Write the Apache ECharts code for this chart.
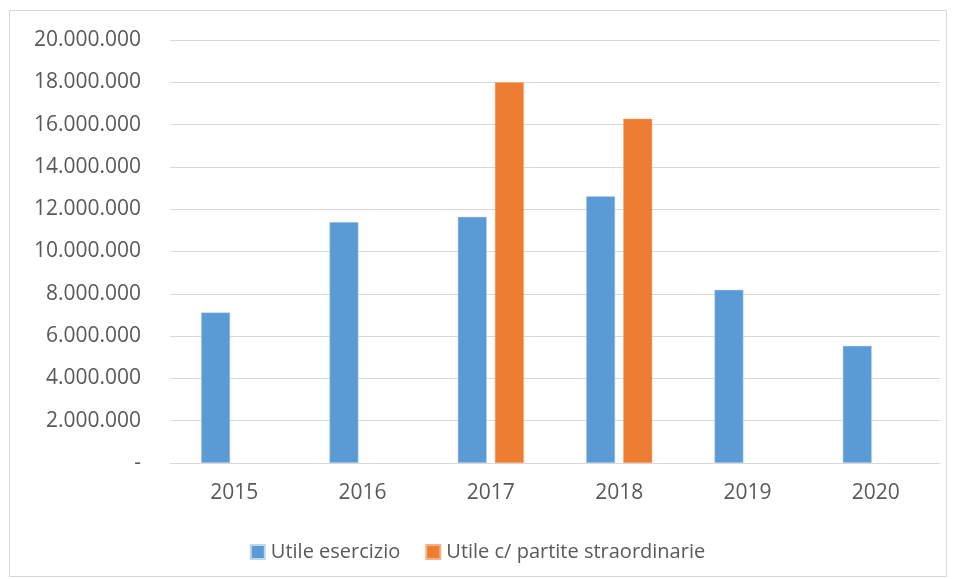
<!DOCTYPE html>
<html>
<head>
<meta charset="utf-8">
<script src="https://cdn.jsdelivr.net/npm/echarts@6/dist/echarts.min.js"></script>
<style>
  html, body { margin: 0; padding: 0; background: #fff; }
  #chart { width: 955px; height: 579px; }
</style>
</head>
<body>
<div id="chart"></div>
<script>
// dati del grafico
var anni = ['2015', '2016', '2017', '2018', '2019', '2020'];
var utileEsercizio = [7120000, 11390000, 11640000, 12610000, 8190000, 5540000];
var utileStraordinarie = [null, null, 18000000, 16280000, null, null];
var nomiSerie = ['Utile esercizio', 'Utile c/ partite straordinarie'];

// formato italiano: 20.000.000, zero mostrato come "-"
function formatta(v) {
    if (v === 0) return '-';
    return String(v).replace(/\B(?=(\d{3})+(?!\d))/g, '.');
}

var myChart = echarts.init(document.getElementById('chart'));

var option = {
    animation: false,
    textStyle: { fontFamily: 'Open Sans, Liberation Sans, sans-serif' },
    graphic: [{
        type: 'rect',
        shape: { x: 9.5, y: 10.5, width: 937, height: 566 },
        style: { fill: 'none', stroke: '#d9d9d9', lineWidth: 1 },
        silent: true
    }],
    grid: { left: 170, right: 15, top: 40, bottom: 116 },
    legend: {
        top: 537,
        left: 'center',
        itemWidth: 14,
        itemHeight: 14,
        itemGap: 25,
        icon: 'rect',
        textStyle: { color: '#595959', fontSize: 20, padding: [0, 0, 0, 1] },
        data: nomiSerie
    },
    xAxis: {
        type: 'category',
        data: anni,
        axisLine: { lineStyle: { color: '#d9d9d9', width: 1 } },
        axisTick: { show: false },
        axisLabel: { color: '#595959', fontSize: 21, margin: 20 }
    },
    yAxis: {
        type: 'value',
        min: 0,
        max: 20000000,
        interval: 2000000,
        axisLine: { show: false },
        axisTick: { show: false },
        splitLine: { lineStyle: { color: '#d9d9d9', width: 1 } },
        axisLabel: { color: '#595959', fontSize: 21, margin: 29, formatter: formatta }
    },
    series: [
        {
            name: nomiSerie[0],
            type: 'bar',
            data: utileEsercizio,
            barWidth: 29,
            barGap: '28%',
            itemStyle: { color: '#5b9bd5', borderColor: '#bdd7ee', borderWidth: 0.5 }
        },
        {
            name: nomiSerie[1],
            type: 'bar',
            data: utileStraordinarie,
            barWidth: 29,
            barGap: '28%',
            itemStyle: { color: '#ed7d31', borderColor: '#f4b183', borderWidth: 0.5 }
        }
    ]
};

myChart.setOption(option);
</script>
</body>
</html>
